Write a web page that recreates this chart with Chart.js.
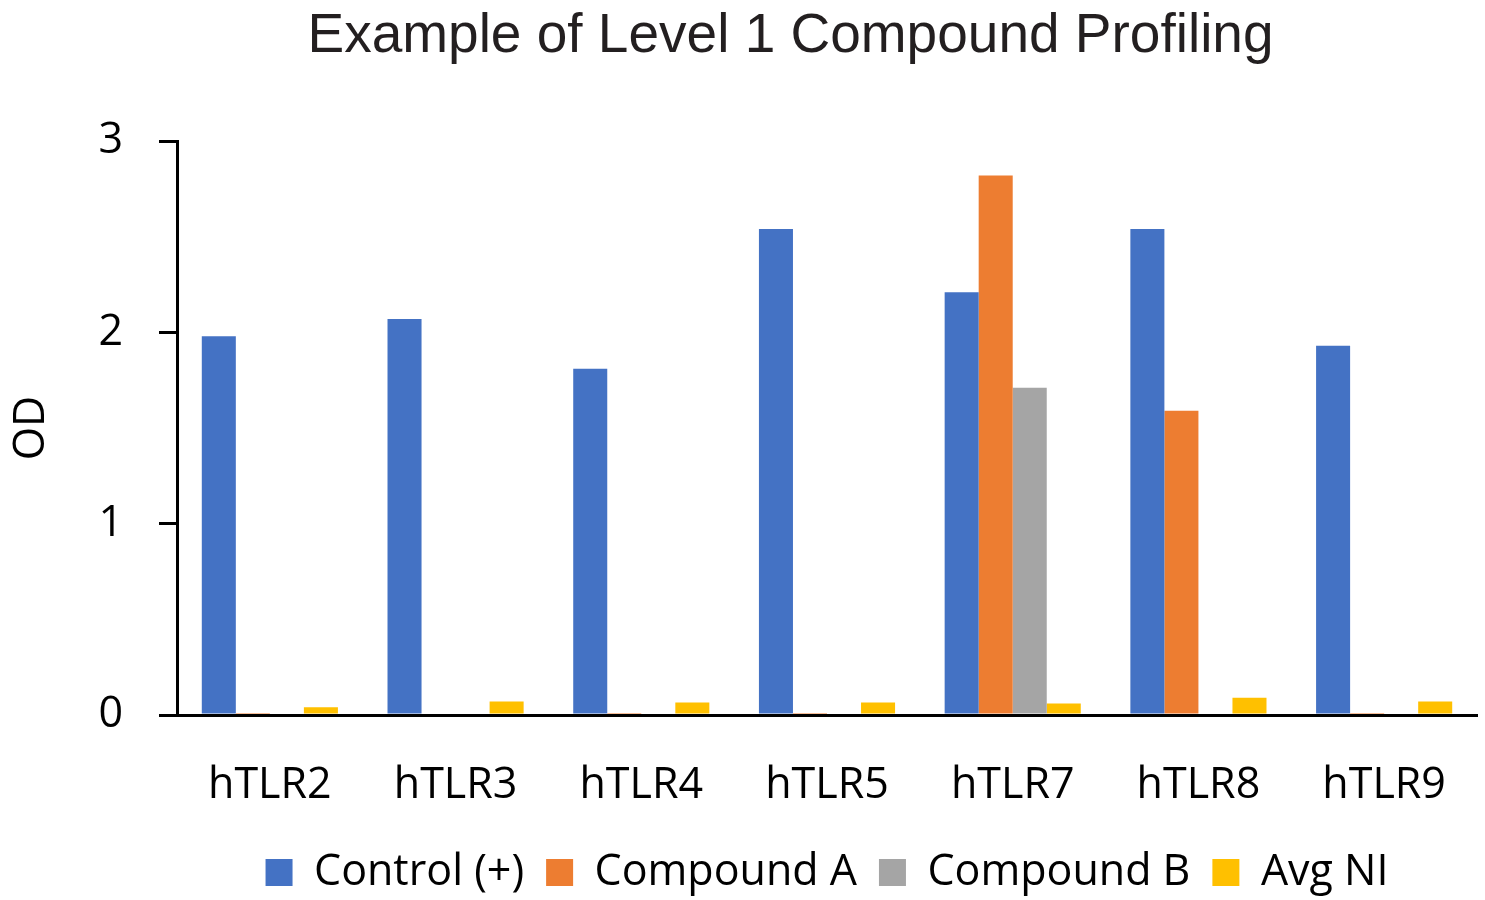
<!DOCTYPE html>
<html>
<head>
<meta charset="utf-8">
<script src="https://cdn.jsdelivr.net/npm/chart.js@4.4.0/dist/chart.umd.min.js"></script>
<style>
  html, body { margin: 0; padding: 0; background: #ffffff; }
  #wrap { width: 1485px; height: 900px; position: relative; }
</style>
</head>
<body>
<div id="wrap"><canvas id="c" width="1485" height="900"></canvas></div>
<script>
const categories = ["hTLR2", "hTLR3", "hTLR4", "hTLR5", "hTLR7", "hTLR8", "hTLR9"];
const controlPlus = [1.98, 2.07, 1.81, 2.54, 2.21, 2.54, 1.93];
const compoundA  = [0.01, 0.0, 0.01, 0.01, 2.82, 1.59, 0.01];
const compoundB  = [0.0, 0.0, 0.0, 0.0, 1.71, 0.0, 0.0];
const avgNI      = [0.04, 0.07, 0.065, 0.065, 0.06, 0.09, 0.07];
const seriesNames = ["Control (+)", "Compound A", "Compound B", "Avg NI"];
const yTicks = [0, 1, 2, 3];

const colors = ["#4472C4", "#ED7D31", "#A5A5A5", "#FFC000"];
const seriesData = [controlPlus, compoundA, compoundB, avgNI];
const tickFont = { family: "Open Sans", size: 43 };

const shiftTitle = {
  id: "shiftTitle",
  afterLayout(chart) {
    if (chart.titleBlock) { chart.titleBlock.left = 96; chart.titleBlock.right = 1485; }
  }
};

const chart = new Chart(document.getElementById("c"), {
  type: "bar",
  data: {
    labels: categories,
    datasets: seriesNames.map((n, i) => ({
      label: n,
      data: seriesData[i],
      backgroundColor: colors[i],
      borderWidth: 0,
      barPercentage: 1.0,
      categoryPercentage: 0.733
    }))
  },
  plugins: [shiftTitle],
  options: {
    responsive: false,
    animation: false,
    devicePixelRatio: 1,
    layout: { padding: { left: 0, right: 8, top: 0, bottom: -4 } },
    plugins: {
      title: {
        display: true,
        text: "Example of Level 1 Compound Profiling",
        color: "#231f20",
        font: { family: "Liberation Sans", size: 55, weight: "normal" },
        padding: { top: 4, bottom: 71 }
      },
      legend: {
        display: true,
        position: "bottom",
        fullSize: false,
        labels: {
          color: "#000000",
          font: tickFont,
          boxWidth: 27,
          boxHeight: 27,
          padding: 22
        }
      },
      tooltip: { enabled: false }
    },
    scales: {
      x: {
        grid: { display: false, drawTicks: false },
        border: { display: true, color: "#000000", width: 3 },
        ticks: { color: "#000000", font: tickFont, padding: 45, maxRotation: 0 },
        afterFit: (s) => { s.height = 114; s.paddingLeft = 0; s.paddingRight = 0; }
      },
      y: {
        min: 0,
        max: 3,
        afterBuildTicks: (s) => { s.ticks = yTicks.map(v => ({ value: v })); },
        grid: { display: true, drawOnChartArea: false, drawTicks: true, tickLength: 18, color: "#000000", lineWidth: 3 },
        border: { display: true, color: "#000000", width: 3 },
        ticks: { color: "#000000", font: tickFont, padding: 36 },
        title: { display: true, text: "OD", color: "#000000", font: tickFont, padding: { top: 6, bottom: 0 } },
        afterFit: (s) => { s.width = 177; }
      }
    }
  }
});
</script>
</body>
</html>
